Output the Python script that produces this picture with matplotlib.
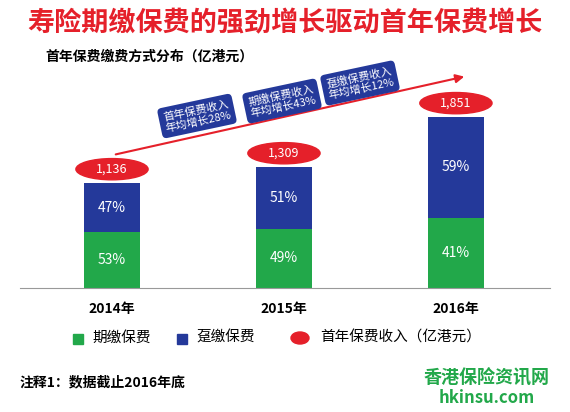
import matplotlib
matplotlib.use("Agg")
import matplotlib.pyplot as plt
from matplotlib.patches import Ellipse, FancyBboxPatch, FancyArrowPatch

plt.rcParams['font.family'] = ['Noto Sans CJK SC', 'DejaVu Sans']

years = ["2014年", "2015年", "2016年"]
totals = [1136, 1309, 1851]
periodic_pct = [53, 49, 41]
single_pct = [47, 51, 59]
total_labels = ["1,136", "1,309", "1,851"]
notes = ["首年保费收入\n年均增长28%", "期缴保费收入\n年均增长43%", "趸缴保费收入\n年均增长12%"]

GREEN = "#22a84a"
BLUE = "#24399a"
RED = "#e5202a"

W, H = 570, 412
fig = plt.figure(figsize=(W/100, H/100), dpi=100)
fig.patch.set_facecolor("white")

def fx(x): return x / W
def fy(y): return 1 - y / H

ax = fig.add_axes([fx(20), fy(288), (550-20)/W, (288-60)/H])
ax.set_xlim(-0.535, 2.547)
ax.set_ylim(0, 2468)
for s in ax.spines.values():
    s.set_visible(False)
ax.spines['bottom'].set_visible(True)
ax.spines['bottom'].set_color("#999999")
ax.set_xticks([]); ax.set_yticks([])
ax.patch.set_alpha(0)

x = range(len(years))
bw = 0.325
g = [t*p/100 for t, p in zip(totals, periodic_pct)]
b = [t*p/100 for t, p in zip(totals, single_pct)]
ax.bar(x, g, width=bw, color=GREEN)
ax.bar(x, b, bottom=g, width=bw, color=BLUE)
for i in x:
    ax.text(i, g[i]/2, f"{periodic_pct[i]}%", ha="center", va="center", color="white", fontsize=10)
    ax.text(i, g[i] + b[i]/2, f"{single_pct[i]}%", ha="center", va="center", color="white", fontsize=10)
    ax.add_patch(Ellipse((i, totals[i] + 150), 0.42, 230, color=RED, zorder=3))
    ax.text(i, totals[i] + 150, total_labels[i], ha="center", va="center", color="white", fontsize=9, zorder=4)
    ax.text(i, -230, years[i], ha="center", va="center", fontsize=10, fontweight="bold", clip_on=False)

fig.patches.append(FancyArrowPatch((fx(113), fy(155)), (fx(467), fy(76)), transform=fig.transFigure,
                                   arrowstyle="-|>,head_length=5,head_width=2.5", color=RED, lw=1.5))
for (cx, cy), t in zip([(197, 116), (282, 101), (360, 83)], notes):
    fig.text(fx(cx), fy(cy), t, ha="center", va="center", color="white", fontsize=8, rotation=12,
             linespacing=1.1,
             bbox=dict(boxstyle="round,pad=0.4,rounding_size=0.4", fc=BLUE, ec="none"))

fig.text(0.5, fy(23), "寿险期缴保费的强劲增长驱动首年保费增长", ha="center", va="center",
         color=RED, fontsize=19.5, fontweight="bold")
fig.text(fx(45), fy(57), "首年保费缴费方式分布（亿港元）", ha="left", va="center", fontsize=10, fontweight="bold")

ly = fy(338)
fig.patches.append(plt.Rectangle((fx(73), ly-0.014), 10/W, 10/H, color=GREEN, transform=fig.transFigure))
fig.text(fx(92), ly, "期缴保费", va="center", fontsize=10.5)
fig.patches.append(plt.Rectangle((fx(177), ly-0.014), 10/W, 10/H, color=BLUE, transform=fig.transFigure))
fig.text(fx(196), ly, "趸缴保费", va="center", fontsize=10.5)
fig.patches.append(Ellipse((fx(300), ly), 18/W, 12/H, color=RED, transform=fig.transFigure))
fig.text(fx(320), ly, "首年保费收入（亿港元）", va="center", fontsize=10.5)

fig.text(fx(20), fy(382), "注释1：数据截止2016年底", va="center", fontsize=10, fontweight="bold")
fig.text(fx(487), fy(378), "香港保险资讯网", ha="center", va="center", fontsize=13, fontweight="bold", color=GREEN)
fig.text(fx(487), fy(398), "hkinsu.com", ha="center", va="center", fontsize=12, fontweight="bold", color=GREEN)

fig.savefig("out.png", dpi=100)
